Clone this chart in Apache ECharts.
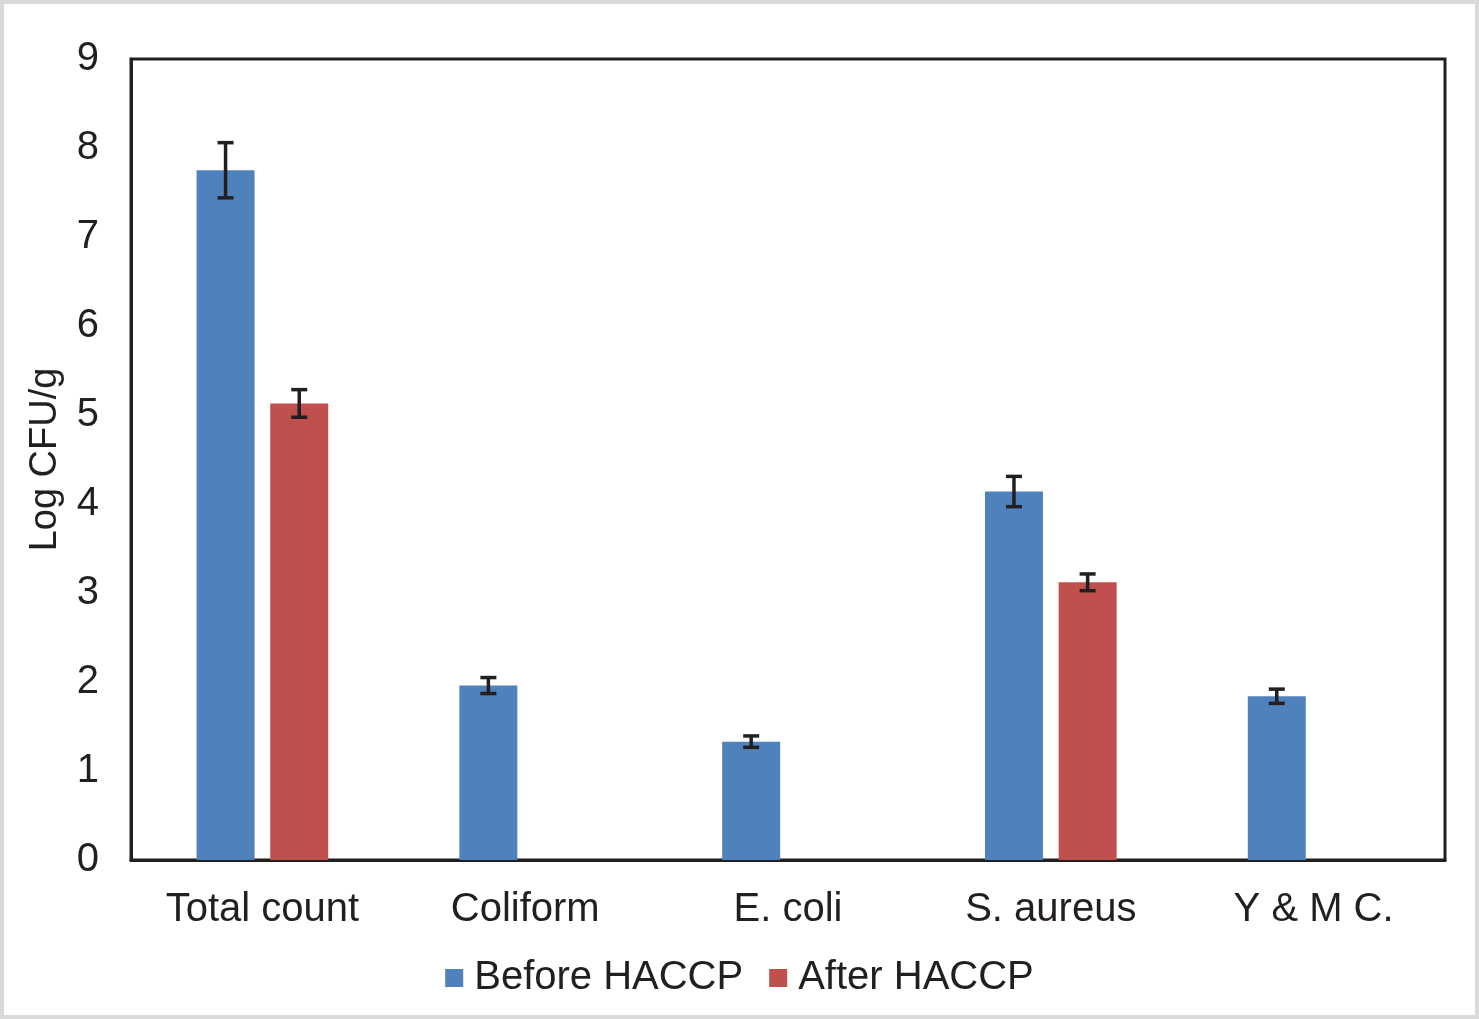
<!DOCTYPE html>
<html><head><meta charset="utf-8">
<script src="https://cdn.jsdelivr.net/npm/echarts@6/dist/echarts.min.js"></script>
<style>html,body{margin:0;padding:0;background:#fff}#c{width:1479px;height:1019px}</style>
</head><body><div id="c"></div>
<script>
const categories = ['Total count', 'Coliform', 'E. coli', 'S. aureus', 'Y & M C.'];
const beforeValues = [7.75, 1.96, 1.33, 4.14, 1.84];
const beforeErrors = [0.31, 0.09, 0.064, 0.17, 0.08];
const afterValues = [5.13, null, null, 3.12, null];
const afterErrors = [0.155, null, null, 0.094, null];
const yTicks = [0, 1, 2, 3, 4, 5, 6, 7, 8, 9];

const FONT = '"Liberation Sans Narrow", "Liberation Sans", Arial, sans-serif';
const BAR_W = 58, GAP = 0.27;
const OFF = (BAR_W + BAR_W * GAP) / 2;

function errSeries(vals, errs, dir) {
  const data = vals.map((v, i) => v == null ? null : [i, v, errs[i]]).filter(d => d);
  return {
    type: 'custom', z: 10, silent: true,
    data: data,
    renderItem: function (params, api) {
      const i = api.value(0), v = api.value(1), e = api.value(2);
      const top = api.coord([i, v + e]);
      const bot = api.coord([i, v - e]);
      const x = top[0] + dir * OFF;
      const cap = 8;
      const st = { stroke: '#231f20', lineWidth: 3.5 };
      return { type: 'group', children: [
        { type: 'line', shape: { x1: x, y1: top[1], x2: x, y2: bot[1] }, style: st },
        { type: 'line', shape: { x1: x - cap, y1: top[1], x2: x + cap, y2: top[1] }, style: st },
        { type: 'line', shape: { x1: x - cap, y1: bot[1], x2: x + cap, y2: bot[1] }, style: st }
      ]};
    }
  };
}

const chart = echarts.init(document.getElementById('c'));
chart.setOption({
  animation: false,
  textStyle: { fontFamily: FONT },
  graphic: [{ type: 'rect', shape: { x: 0, y: 0, width: 1479, height: 1019 }, style: { fill: 'none', stroke: '#d9d9d9', lineWidth: 8 }, z: 100 }],
  grid: { left: 131, right: 34, top: 59, bottom: 159, show: true, borderColor: '#231f20', borderWidth: 3, backgroundColor: 'transparent' },
  legend: {
    bottom: 16, left: 'center', itemWidth: 18, itemHeight: 18, itemGap: 26, icon: 'rect',
    textStyle: { fontSize: 40, color: '#231f20', fontFamily: FONT, padding: [0, 0, 0, 6] },
    data: ['Before HACCP', 'After HACCP']
  },
  xAxis: {
    type: 'category', data: categories,
    axisLine: { show: true, lineStyle: { color: '#231f20', width: 3 } },
    axisTick: { show: false },
    axisLabel: { fontSize: 40, color: '#231f20', margin: 30, fontFamily: FONT }
  },
  yAxis: {
    type: 'value', min: 0, max: 9, interval: 1,
    name: 'Log CFU/g', nameLocation: 'middle', nameGap: 66, nameRotate: 90,
    nameTextStyle: { fontSize: 38, color: '#231f20', fontFamily: FONT },
    axisLine: { show: true, lineStyle: { color: '#231f20', width: 3 } },
    axisTick: { show: false },
    splitLine: { show: false },
    axisLabel: { fontSize: 40, color: '#231f20', margin: 32, fontFamily: FONT,
      formatter: v => yTicks.includes(v) ? String(v) : '' }
  },
  series: [
    { name: 'Before HACCP', type: 'bar', data: beforeValues, barWidth: BAR_W, barGap: (GAP * 100) + '%', itemStyle: { color: '#4f81bd' } },
    { name: 'After HACCP', type: 'bar', data: afterValues, barWidth: BAR_W, itemStyle: { color: '#c0504d' } },
    errSeries(beforeValues, beforeErrors, -1),
    errSeries(afterValues, afterErrors, 1)
  ]
});
</script></body></html>
